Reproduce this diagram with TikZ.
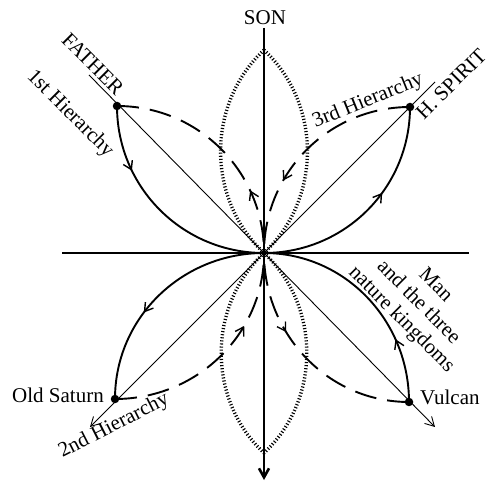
\documentclass[tikz,border=0pt]{standalone}
\usepackage{fontspec}
\setmainfont{Liberation Serif}
\usetikzlibrary{arrows.meta,decorations.markings}
\begin{document}
\begin{tikzpicture}[x=1pt,y=1pt,
  axis/.style={line width=2.6pt},
  diag/.style={line width=0.9pt},
  petal/.style={line width=1.9pt},
  dpetal/.style={line width=1.9pt, dash pattern=on 22pt off 11pt},
  hatch/.style={line width=3.4pt, dash pattern=on 1.1pt off 2pt, black},
  dot/.style={circle, fill=black, inner sep=0pt, minimum size=8.5pt},
  lbl/.style={font=\fontsize{21}{24}\selectfont, inner sep=0pt},
  fwd/.style={postaction={decorate}, decoration={markings,
      mark=at position #1 with {\pgfsetdash{}{0pt}\arrow[line width=1.4pt]{Straight Barb[length=8pt,width=10pt]}}}},
  bwd/.style={postaction={decorate}, decoration={markings,
      mark=at position #1 with {\pgfsetdash{}{0pt}\arrowreversed[line width=1.4pt]{Straight Barb[length=8pt,width=10pt]}}}},
  endtip/.style={-{Straight Barb[length=9pt,width=10pt]}}
]
\useasboundingbox (0,0) rectangle (492,484);

% points
\coordinate (O) at (264,231);
\coordinate (Ntop) at (264,456);
\coordinate (Sbot) at (264,4);
\coordinate (W) at (62,231);
\coordinate (E) at (469,231);
\coordinate (FA) at (89,409);
\coordinate (VA) at (435,57);
\coordinate (HA) at (435,402);
\coordinate (SA) at (90,57);
\coordinate (LT) at (264,434);
\coordinate (LB) at (264,31);

% hatched lenses
\draw[hatch] (LT) to[bend left=47] (O);
\draw[hatch] (LT) to[bend right=47] (O);
\draw[hatch] (O) to[bend left=47] (LB);
\draw[hatch] (O) to[bend right=47] (LB);

% axes
\draw[axis, endtip] (Ntop) -- (Sbot);
\draw[axis] (W) -- (E);

% diagonals
\draw[diag, endtip] (FA) -- (VA);
\draw[diag, endtip] (HA) -- (SA);

% dots
\node[dot] (F) at (117,378) {};
\node[dot] (H) at (410,377) {};
\node[dot] (S) at (115,85) {};
\node[dot] (V) at (409,82) {};

% solid petals
\draw[petal, fwd=0.29] (F.center) to[out=-90,in=180] (O);
\draw[petal, fwd=0.6] (O) to[out=0,in=-90] (H.center);
\draw[petal, fwd=0.6] (O) to[out=180,in=90] (S.center);
\draw[petal, fwd=0.28] (V.center) to[out=90,in=0] (O);

% dashed petals
\draw[dpetal, bwd=0.72] (F.center) to[out=0,in=90] (O);
\draw[dpetal, fwd=0.67] (H.center) to[out=180,in=90] (O);
\draw[dpetal, fwd=0.67] (S.center) to[out=0,in=-90] (O);
\draw[dpetal, bwd=0.64] (V.center) to[out=180,in=-90] (O);

% labels
\node[lbl] (son) at (265,466) {SON};
\node[lbl, rotate=-45] (father) at (93,420) {FATHER};
\node[lbl, rotate=-45] (h1) at (70,370) {1st Hierarchy};
\node[lbl, rotate=22] (h3) at (368,383) {3rd Hierarchy};
\node[lbl, rotate=45] (hs) at (451,400) {H. SPIRIT};
\node[lbl, anchor=base east] (os) at (104,81) {Old Saturn};
\node[lbl, anchor=base west] (vu) at (420,79) {Vulcan};
\node[lbl, rotate=27] (h2) at (114,58) {2nd Hierarchy};
\node[lbl, rotate=-45, align=center] (man) at (418,181) {Man\\and the three\\nature kingdoms};
\end{tikzpicture}
\end{document}
